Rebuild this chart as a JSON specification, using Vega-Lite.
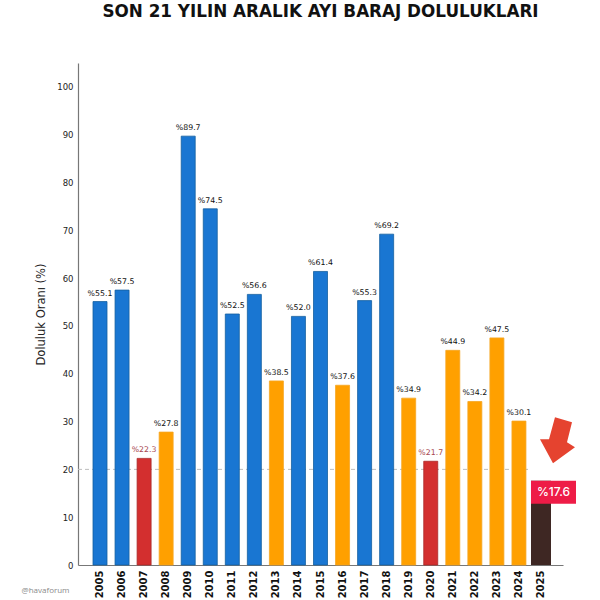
{
  "$schema": "https://vega.github.io/schema/vega-lite/v6.json",
  "autosize": "none",
  "width": 485,
  "height": 502,
  "padding": {"left": 78, "top": 63, "right": 37, "bottom": 35},
  "background": "white",
  "title": {
    "text": "SON 21 YILIN ARALIK AYI BARAJ DOLULUKLARI",
    "font": "DejaVu Sans",
    "fontSize": 16.8,
    "fontWeight": "bold",
    "color": "#111111",
    "anchor": "middle",
    "offset": 42
  },
  "datasets": {
    "years": [
      {"year": "2005", "value": 55.1, "label": "%55.1", "group": "high"},
      {"year": "2006", "value": 57.5, "label": "%57.5", "group": "high"},
      {"year": "2007", "value": 22.3, "label": "%22.3", "group": "low"},
      {"year": "2008", "value": 27.8, "label": "%27.8", "group": "mid"},
      {"year": "2009", "value": 89.7, "label": "%89.7", "group": "high"},
      {"year": "2010", "value": 74.5, "label": "%74.5", "group": "high"},
      {"year": "2011", "value": 52.5, "label": "%52.5", "group": "high"},
      {"year": "2012", "value": 56.6, "label": "%56.6", "group": "high"},
      {"year": "2013", "value": 38.5, "label": "%38.5", "group": "mid"},
      {"year": "2014", "value": 52.0, "label": "%52.0", "group": "high"},
      {"year": "2015", "value": 61.4, "label": "%61.4", "group": "high"},
      {"year": "2016", "value": 37.6, "label": "%37.6", "group": "mid"},
      {"year": "2017", "value": 55.3, "label": "%55.3", "group": "high"},
      {"year": "2018", "value": 69.2, "label": "%69.2", "group": "high"},
      {"year": "2019", "value": 34.9, "label": "%34.9", "group": "mid"},
      {"year": "2020", "value": 21.7, "label": "%21.7", "group": "low"},
      {"year": "2021", "value": 44.9, "label": "%44.9", "group": "mid"},
      {"year": "2022", "value": 34.2, "label": "%34.2", "group": "mid"},
      {"year": "2023", "value": 47.5, "label": "%47.5", "group": "mid"},
      {"year": "2024", "value": 30.1, "label": "%30.1", "group": "mid"},
      {"year": "2025", "value": 17.6, "label": "%17.6", "group": "now"}
    ],
    "banner": [{"year": "2025", "top": 17.6, "bottom": 12.8, "label": "%17.6"}],
    "arrow": [{"year": "2025", "value": 25.9}],
    "threshold": [{"value": 20}]
  },
  "encoding": {
    "x": {
      "field": "year",
      "type": "nominal",
      "sort": null,
      "scale": {
        "domain": ["2005", "2006", "2007", "2008", "2009", "2010", "2011", "2012", "2013", "2014", "2015", "2016", "2017", "2018", "2019", "2020", "2021", "2022", "2023", "2024", "2025"],
        "paddingInner": 0.364,
        "paddingOuter": 0.68
      },
      "axis": {
        "title": "@havaforum",
        "titleFont": "Open Sans",
        "titleFontSize": 8,
        "titleFontWeight": "normal",
        "titleColor": "#8a8a8a",
        "titleX": -33,
        "titleY": 21,
        "labelAngle": -90,
        "labelFont": "DejaVu Sans",
        "labelFontSize": 10,
        "labelFontWeight": "bold",
        "labelColor": "#111111",
        "labelPadding": 5,
        "ticks": false,
        "domainColor": "#777777",
        "domainWidth": 1.2,
        "grid": false
      }
    }
  },
  "layer": [
    {
      "data": {"name": "threshold"},
      "mark": {"type": "rule", "color": "#bdbdbd", "strokeDash": [4, 3], "strokeWidth": 1},
      "encoding": {"x": {"value": 0}, "x2": {"value": 450}, "y": {"field": "value", "type": "quantitative"}}
    },
    {
      "data": {"name": "years"},
      "transform": [{"filter": "datum.group !== 'now'"}],
      "mark": {"type": "bar", "size": 14, "strokeWidth": 0.8},
      "encoding": {
        "y": {
          "field": "value",
          "type": "quantitative",
          "scale": {"domain": [0, 105], "nice": false},
          "axis": {
            "values": [0, 10, 20, 30, 40, 50, 60, 70, 80, 90, 100],
            "title": "Doluluk Oranı (%)",
            "titleFont": "DejaVu Sans",
            "titleFontSize": 11.5,
            "titleFontWeight": "normal",
            "titleColor": "#222222",
            "titlePadding": 10,
            "labelFont": "DejaVu Sans",
            "labelFontSize": 8.5,
            "labelColor": "#222222",
            "labelPadding": 5,
            "ticks": false,
            "grid": false,
            "domainColor": "#777777",
            "domainWidth": 1.2
          }
        },
        "fill": {
          "field": "group",
          "type": "nominal",
          "legend": null,
          "scale": {"domain": ["high", "mid", "low"], "range": ["#1976d2", "#ffa000", "#d32f2f"]}
        },
        "stroke": {
          "field": "group",
          "type": "nominal",
          "legend": null,
          "scale": {"domain": ["high", "mid", "low"], "range": ["#14609f", "#f5a623", "#a92a2a"]}
        }
      }
    },
    {
      "data": {"name": "years"},
      "transform": [{"filter": "datum.group === 'now'"}],
      "mark": {"type": "bar", "size": 20, "fill": "#3e2723"},
      "encoding": {"y": {"field": "value", "type": "quantitative"}}
    },
    {
      "data": {"name": "years"},
      "transform": [{"filter": "datum.group !== 'now' && datum.group !== 'low'"}],
      "mark": {"type": "text", "font": "DejaVu Sans", "fontSize": 7.8, "baseline": "bottom", "dy": -4, "color": "#111111"},
      "encoding": {"y": {"field": "value", "type": "quantitative"}, "text": {"field": "label"}}
    },
    {
      "data": {"name": "years"},
      "transform": [{"filter": "datum.group === 'low'"}],
      "mark": {"type": "text", "font": "DejaVu Sans", "fontSize": 7.8, "baseline": "bottom", "dy": -4, "color": "#a8484f"},
      "encoding": {"y": {"field": "value", "type": "quantitative"}, "text": {"field": "label"}}
    },
    {
      "data": {"name": "banner"},
      "mark": {"type": "bar", "size": 45, "xOffset": 12.5, "fill": "#ee1c47"},
      "encoding": {
        "y": {"field": "top", "type": "quantitative"},
        "y2": {"field": "bottom"}
      }
    },
    {
      "data": {"name": "banner"},
      "mark": {"type": "text", "font": "Inter", "fontSize": 12, "fontWeight": 500, "xOffset": 12.5, "dy": 11.5, "color": "white"},
      "encoding": {"y": {"field": "top", "type": "quantitative"}, "text": {"field": "label"}}
    },
    {
      "data": {"name": "arrow"},
      "mark": {
        "type": "point",
        "filled": true,
        "opacity": 1,
        "xOffset": 16,
        "size": 1600,
        "color": "#e5432f",
        "shape": "M-0.1,-1.2L0.75,-0.95L0.5,0.05L0.9,0.3L-0.2,1.1L-0.85,-0.1L-0.4,-0.1Z"
      },
      "encoding": {"y": {"field": "value", "type": "quantitative"}}
    }
  ],
  "config": {"view": {"stroke": null}}
}
